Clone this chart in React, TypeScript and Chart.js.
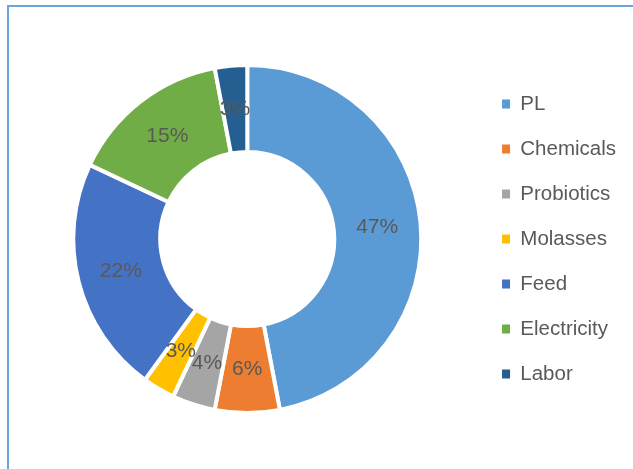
import React, { useEffect, useRef } from "react";
import { Chart, registerables } from "chart.js";

Chart.register(...registerables);

const categories = ["PL", "Chemicals", "Probiotics", "Molasses", "Feed", "Electricity", "Labor"];
const shares = [47, 6, 4, 3, 22, 15, 3];
const sliceColors = ["#5b9bd5", "#ed7d31", "#a5a5a5", "#ffc000", "#4472c4", "#70ad47", "#255e91"];

const FONT = "'Liberation Sans', Arial, sans-serif";

const percentLabels = {
  id: "percentLabels",
  afterDatasetsDraw(chart: any) {
    const { ctx } = chart;
    const meta = chart.getDatasetMeta(0);
    const data = chart.data.datasets[0].data as number[];
    const total = data.reduce((a, b) => a + b, 0);
    ctx.save();
    ctx.font = `21px ${FONT}`;
    ctx.fillStyle = "#595959";
    ctx.textAlign = "center";
    ctx.textBaseline = "middle";
    meta.data.forEach((arc: any, i: number) => {
      const p = arc.tooltipPosition();
      ctx.fillText(Math.round((data[i] / total) * 100) + "%", p.x, p.y);
    });
    ctx.restore();
  },
};

export default function App() {
  const ref = useRef<HTMLCanvasElement>(null);
  useEffect(() => {
    document.body.style.margin = "0";
    document.body.style.overflow = "hidden";
    const chart = new Chart(ref.current!, {
      type: "doughnut",
      data: {
        labels: categories,
        datasets: [
          {
            data: shares,
            backgroundColor: sliceColors,
            borderColor: "#ffffff",
            borderWidth: 4,
          },
        ],
      },
      options: {
        responsive: false,
        animation: false,
        cutout: "50%",
        layout: { padding: { left: 17, right: 7, top: 63, bottom: 54 } },
        plugins: {
          tooltip: { enabled: false },
          legend: {
            position: "right",
            labels: {
              boxWidth: 8,
              boxHeight: 9,
              padding: 24.5,
              color: "#595959",
              font: { family: FONT, size: 20.5 },
              generateLabels(chart: any) {
                const items = Chart.overrides.doughnut.plugins.legend.labels.generateLabels(chart);
                return items.map((it: any) => ({ ...it, lineWidth: 0, strokeStyle: it.fillStyle }));
              },
            },
          },
        },
      },
      plugins: [percentLabels],
    });
    return () => chart.destroy();
  }, []);
  return (
    <div style={{ position: "fixed", left: 0, top: 0, width: 633, height: 469, background: "#fff" }}>
      <div
        style={{
          position: "absolute",
          left: 7,
          top: 5,
          right: 0,
          bottom: 0,
          borderTop: "2px solid #6fa3db",
          borderLeft: "2px solid #6fa3db",
        }}
      />
      <canvas ref={ref} width={633} height={469} style={{ position: "absolute", left: 0, top: 0 }} />
    </div>
  );
}
